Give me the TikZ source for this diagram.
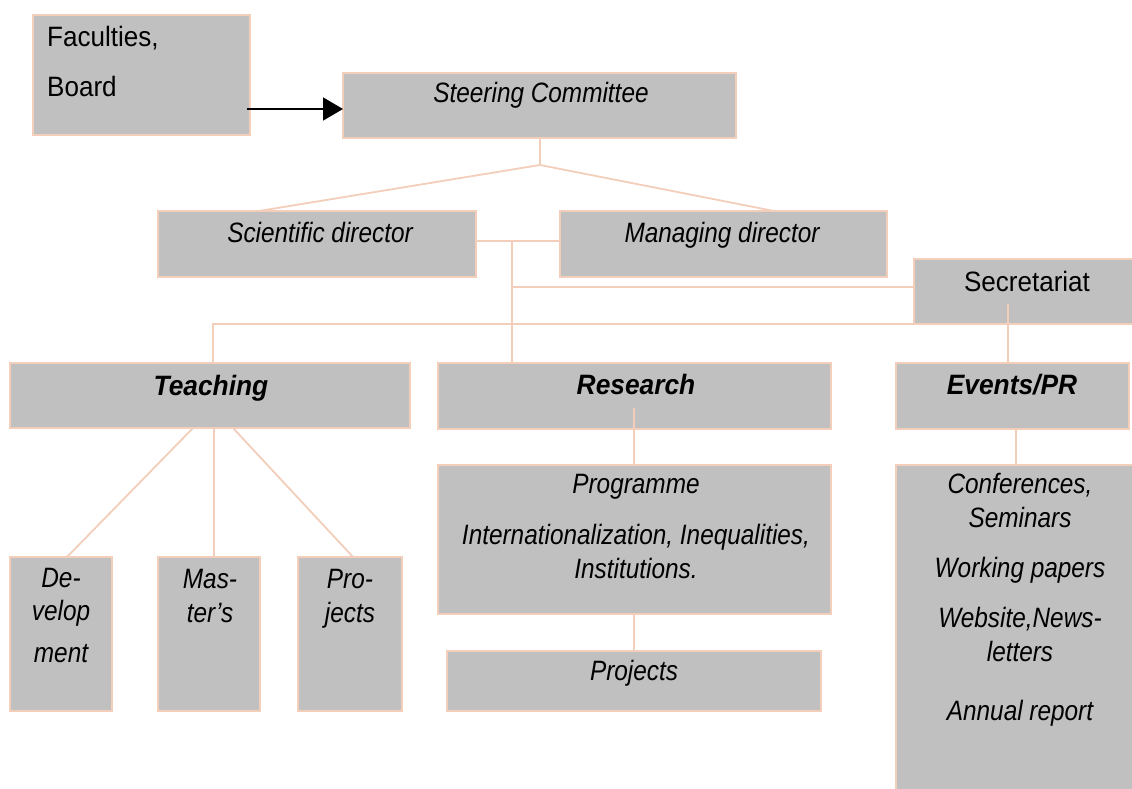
\documentclass[tikz,border=0pt]{standalone}
\usepackage{fontspec}
\setmainfont{Liberation Sans}
\newfontfamily\uprfont[FakeStretch=0.93]{Liberation Sans}
\newfontfamily\itlfont[FakeStretch=0.87]{Liberation Sans}
\newfontfamily\bitfont[FakeStretch=0.94]{Liberation Sans}
\usetikzlibrary{arrows.meta}
\definecolor{boxfill}{RGB}{192,192,192}
\definecolor{peach}{RGB}{243,206,186}
\tikzset{
  orgbox/.style={draw=peach, fill=boxfill, line width=2.2pt, inner sep=0pt, outer sep=0pt},
  link/.style={draw=peach, line width=1.8pt},
  upr/.style={inner sep=0pt, font=\uprfont\fontsize{28}{30}\selectfont},
  itl/.style={inner sep=0pt, font=\itlfont\itshape\fontsize{28}{30}\selectfont},
  bit/.style={inner sep=0pt, font=\bitfont\bfseries\itshape\fontsize{28}{30}\selectfont},
  arr/.style={draw=black, line width=1.8pt, -{Triangle[length=20pt,width=23pt]}}
}
\newcommand{\orgrect}[5]{%
  \node[orgbox, minimum width=#4-#2, minimum height=#5-#3] (#1) at ({(#2+#4)/2},{(#3+#5)/2}) {};}
\begin{document}
\begin{tikzpicture}[x=1pt,y=-1pt]
\useasboundingbox (0,0) rectangle (1132,789);
\fill[white] (0,0) rectangle (1132,789);
% boxes
\orgrect{fac}{33}{15}{250}{135}
\orgrect{steer}{343}{73}{736}{138}
\orgrect{sci}{158}{211}{476}{277}
\orgrect{mgr}{560}{211}{887}{277}
\orgrect{sec}{914}{259}{1146}{324}
\orgrect{teach}{10}{363}{410}{428}
\orgrect{res}{438}{363}{831}{429}
\orgrect{ev}{896}{363}{1129}{429}
\orgrect{dev}{10}{557}{112}{711}
\orgrect{mas}{158}{557}{260}{711}
\orgrect{tproj}{298}{557}{402}{711}
\orgrect{prog}{438}{465}{831}{614}
\orgrect{rproj}{447}{651}{821}{711}
\orgrect{conf}{896}{465}{1146}{810}
% junction coordinates
\coordinate (jst) at (540,165);
\coordinate (jsm) at (512,241);
\coordinate (jsec) at (512,287);
\coordinate (jtop) at (213,324);
\coordinate (secin) at (1008,304);
\coordinate (resin) at (634,408);
% connectors
\draw[link] (steer.south -| jst) -- (jst);
\draw[link] (jst) -- (sci.north -| 259,0);
\draw[link] (jst) -- (mgr.north -| 774,0);
\draw[link] (sci.east |- jsm) -- (jsm) -- (mgr.west |- jsm);
\draw[link] (jsm) -- (res.north -| jsm);
\draw[link] (jsec) -- (sec.west |- jsec);
\draw[link] (teach.north -| jtop) -- (jtop) -- (sec.south west);
\draw[link] (secin) -- (ev.north -| secin);
\draw[link] (resin) -- (prog.north -| resin);
\draw[link] (ev.south -| 1016,0) -- (conf.north -| 1016,0);
\draw[link] (prog.south -| resin) -- (rproj.north -| resin);
\draw[link] (teach.south -| 193,0) -- (dev.north -| 67,0);
\draw[link] (teach.south -| 214,0) -- (mas.north -| 214,0);
\draw[link] (teach.south -| 233,0) -- (tproj.north -| 353,0);
% arrow
\draw[arr] (fac.east |- 0,109) ++(-3,0) -- (steer.west |- 0,109);
% texts
\node[upr, anchor=base west] (t1) at (47,47) {Faculties,};
\node[upr, anchor=base west] (t2) at (47,97) {Board};
\node[itl, anchor=base] (t3) at (541,103) {Steering Committee};
\node[itl, anchor=base] (t4) at (320,242) {Scientific director};
\node[itl, anchor=base] (t5) at (722,242) {Managing director};
\node[upr, anchor=base] (t6) at (1027,291) {Secretariat};
\node[bit, anchor=base] (t7) at (211,395) {Teaching};
\node[bit, anchor=base] (t8) at (636,394) {Research};
\node[bit, anchor=base] (t9) at (1012,394) {Events/PR};
\node[itl, anchor=base] (t10) at (636,493) {Programme};
\node[itl, anchor=base] (t11) at (636,544) {Internationalization, Inequalities,};
\node[itl, anchor=base] (t12) at (636,578) {Institutions.};
\node[itl, anchor=base] (t13) at (634,680) {Projects};
\node[itl, anchor=base] (t14) at (1020,493) {Conferences,};
\node[itl, anchor=base] (t15) at (1020,527) {Seminars};
\node[itl, anchor=base] (t16) at (1020,577) {Working papers};
\node[itl, anchor=base] (t17) at (1020,627) {Website,News-};
\node[itl, anchor=base] (t18) at (1020,661) {letters};
\node[itl, anchor=base] (t19) at (1020,720) {Annual report};
\node[itl, anchor=base] (t20) at (61,587) {De-};
\node[itl, anchor=base] (t21) at (61,620) {velop};
\node[itl, anchor=base] (t22) at (61,662) {ment};
\node[itl, anchor=base] (t23) at (210,588) {Mas-};
\node[itl, anchor=base] (t24) at (210,622) {ter’s};
\node[itl, anchor=base] (t25) at (350,588) {Pro-};
\node[itl, anchor=base] (t26) at (350,622) {jects};
\end{tikzpicture}
\end{document}
